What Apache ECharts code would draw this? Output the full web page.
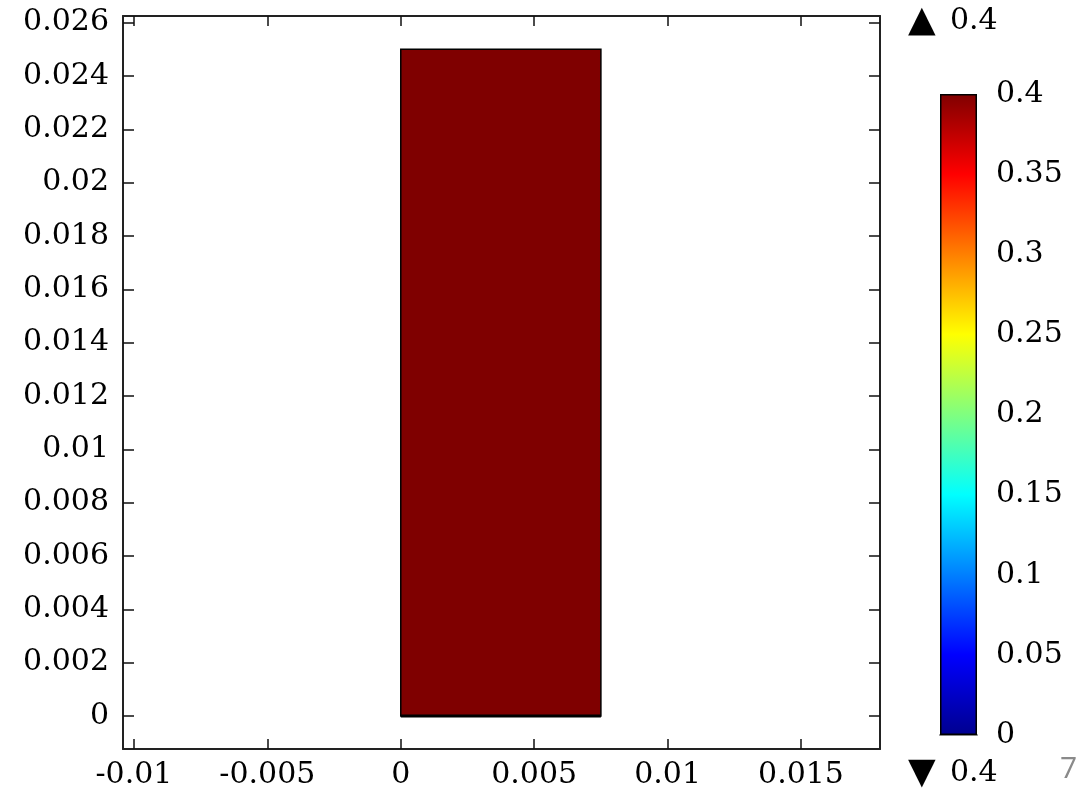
<!DOCTYPE html>
<html>
<head>
<meta charset="utf-8">
<script src="https://cdn.jsdelivr.net/npm/echarts@6/dist/echarts.min.js"></script>
<style>html,body{margin:0;padding:0;background:#fff;}#c{width:1083px;height:790px;}</style>
</head>
<body>
<div id="c"></div>
<script>
// ---- data ----
const xRange = [-0.01041, 0.01796];
const yRange = [-0.00124, 0.02625];
const xTicks = [-0.01, -0.005, 0, 0.005, 0.01, 0.015];
const xTickLabels = ['-0.01', '-0.005', '0', '0.005', '0.01', '0.015'];
const yTicks = [0, 0.002, 0.004, 0.006, 0.008, 0.01, 0.012, 0.014, 0.016, 0.018, 0.02, 0.022, 0.024, 0.026];
const yTickLabels = ['0', '0.002', '0.004', '0.006', '0.008', '0.01', '0.012', '0.014', '0.016', '0.018', '0.02', '0.022', '0.024', '0.026'];
const rectX = [0, 0.0075];
const rectY = [0, 0.025];
const rectValue = [0.4];
const cbRange = [0, 0.4];
const cbTicks = [0, 0.05, 0.1, 0.15, 0.2, 0.25, 0.3, 0.35, 0.4];
const cbTickLabels = ['0', '0.05', '0.1', '0.15', '0.2', '0.25', '0.3', '0.35', '0.4'];
const maxMarker = '\u25B2';
const minMarker = '\u25BC';
const maxValueLabel = '0.4';
const minValueLabel = '0.4';
const pageNumber = '7';

const FONT = 'DejaVu Serif';
const FS = 30;

function labelFor(ticks, labels) {
  return function (v) {
    for (let i = 0; i < ticks.length; i++) if (Math.abs(ticks[i] - v) < 1e-9) return labels[i];
    return '';
  };
}

const jetStops = [
  { offset: 0, color: '#00008f' },
  { offset: 0.125, color: '#0000ff' },
  { offset: 0.375, color: '#00ffff' },
  { offset: 0.625, color: '#ffff00' },
  { offset: 0.875, color: '#ff0000' },
  { offset: 1, color: '#800000' }
];

const chart = echarts.init(document.getElementById('c'), null, { renderer: 'canvas' });
const axisLineStyle = { color: '#222', width: 2 };
const tickStyle = { color: '#111', width: 1.5 };

chart.setOption({
  animation: false,
  backgroundColor: '#fff',
  grid: [
    { left: 123, top: 16, width: 757, height: 733, containLabel: false },
    { left: 940, top: 94, width: 37, height: 641, containLabel: false }
  ],
  xAxis: [
    {
      type: 'value', gridIndex: 0, position: 'bottom', min: xRange[0], max: xRange[1],
      axisLine: { show: true, onZero: false, lineStyle: axisLineStyle },
      axisTick: { show: true, inside: true, length: 10, lineStyle: tickStyle, customValues: xTicks },
      axisLabel: { show: true, margin: 11, color: '#000', fontFamily: FONT, fontSize: FS, customValues: xTicks, formatter: labelFor(xTicks, xTickLabels) },
      splitLine: { show: false }
    },
    {
      type: 'value', gridIndex: 0, position: 'top', min: xRange[0], max: xRange[1],
      axisLine: { show: true, onZero: false, lineStyle: axisLineStyle },
      axisTick: { show: true, inside: true, length: 10, lineStyle: tickStyle, customValues: xTicks },
      axisLabel: { show: false },
      splitLine: { show: false }
    },
    {
      type: 'category', gridIndex: 1, data: ['c'], position: 'top',
      axisLine: { show: true, lineStyle: { color: '#888', width: 2 } },
      axisTick: { show: false }, axisLabel: { show: false }, splitLine: { show: false }
    }
  ],
  yAxis: [
    {
      type: 'value', gridIndex: 0, position: 'left', min: yRange[0], max: yRange[1],
      axisLine: { show: true, onZero: false, lineStyle: axisLineStyle },
      axisTick: { show: true, inside: true, length: 11, lineStyle: tickStyle, customValues: yTicks },
      axisLabel: { show: true, margin: 14, color: '#000', fontFamily: FONT, fontSize: FS, customValues: yTicks, formatter: labelFor(yTicks, yTickLabels) },
      splitLine: { show: false }
    },
    {
      type: 'value', gridIndex: 0, position: 'right', min: yRange[0], max: yRange[1],
      axisLine: { show: true, onZero: false, lineStyle: axisLineStyle },
      axisTick: { show: true, inside: true, length: 11, lineStyle: tickStyle, customValues: yTicks },
      axisLabel: { show: false },
      splitLine: { show: false }
    },
    {
      type: 'value', gridIndex: 1, position: 'right', min: cbRange[0], max: cbRange[1],
      axisLine: { show: false }, axisTick: { show: false },
      axisLabel: { show: true, margin: 19, color: '#000', fontFamily: FONT, fontSize: FS, customValues: cbTicks, formatter: labelFor(cbTicks, cbTickLabels) },
      splitLine: { show: false }
    }
  ],
  series: [
    {
      type: 'custom', xAxisIndex: 0, yAxisIndex: 0,
      data: [[rectX[0], rectX[1], rectY[0], rectY[1], rectValue[0]]],
      renderItem: function (params, api) {
        const p0 = api.coord([api.value(0), api.value(3)]);
        const p1 = api.coord([api.value(1), api.value(2)]);
        return {
          type: 'group',
          children: [
            {
              type: 'rect',
              shape: { x: p0[0], y: p0[1], width: p1[0] - p0[0], height: p1[1] - p0[1] },
              style: { fill: '#7f0000', stroke: '#000', lineWidth: 1.5 }
            },
            {
              type: 'line',
              shape: { x1: p0[0], y1: p1[1], x2: p1[0], y2: p1[1] },
              style: { stroke: '#000', lineWidth: 3 }
            }
          ]
        };
      }
    },
    {
      type: 'bar', xAxisIndex: 2, yAxisIndex: 2, barWidth: '100%',
      data: [cbRange[1]],
      itemStyle: {
        color: new echarts.graphic.LinearGradient(0, 1, 0, 0, jetStops),
        borderColor: '#000', borderWidth: 1.5
      }
    }
  ],
  graphic: [
    { type: 'text', left: 908, top: 4, style: { text: maxMarker, fontFamily: 'DejaVu Sans', fontSize: 36, fill: '#000' } },
    { type: 'text', left: 950, top: 6, style: { text: maxValueLabel, fontFamily: FONT, fontSize: FS, fill: '#000' } },
    { type: 'text', left: 908, top: 756, style: { text: minMarker, fontFamily: 'DejaVu Sans', fontSize: 36, fill: '#000' } },
    { type: 'text', left: 950, top: 758, style: { text: minValueLabel, fontFamily: FONT, fontSize: FS, fill: '#000' } },
    { type: 'text', left: 1060, top: 754, style: { text: pageNumber, fontFamily: 'Open Sans', fontSize: 30, fill: '#8a8a8a' } }
  ]
});
</script>
</body>
</html>
